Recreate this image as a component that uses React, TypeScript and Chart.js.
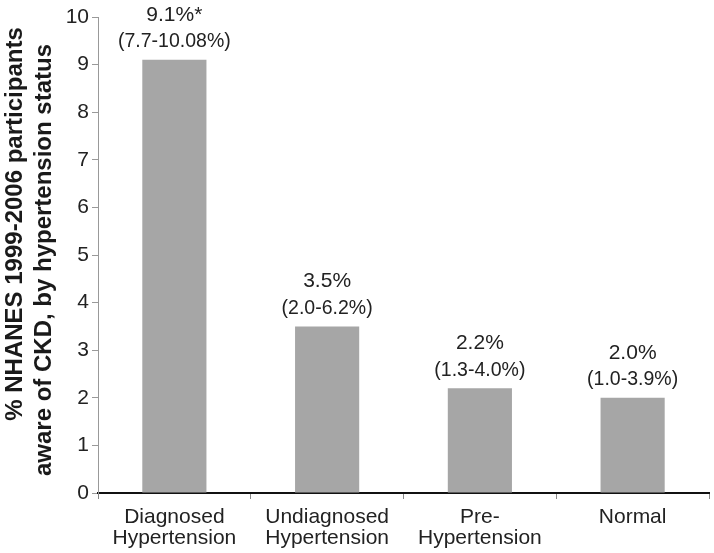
import React, { useEffect, useRef } from "react";
import { Chart, registerables } from "chart.js";

Chart.register(...registerables);

const categories: string[][] = [
  ["Diagnosed", "Hypertension"],
  ["Undiagnosed", "Hypertension"],
  ["Pre-", "Hypertension"],
  ["Normal"],
];
const values: number[] = [9.1, 3.5, 2.2, 2.0];
const valueLabels: string[] = ["9.1%*", "3.5%", "2.2%", "2.0%"];
const ciLabels: string[] = ["(7.7-10.08%)", "(2.0-6.2%)", "(1.3-4.0%)", "(1.0-3.9%)"];
const yTitle: string[] = ["% NHANES 1999-2006 participants", "aware of CKD, by hypertension status"];

const FONT = "'Liberation Sans', Arial, sans-serif";

const labelPlugin = {
  id: "barLabels",
  afterDatasetsDraw(chart: any) {
    const ctx = chart.ctx;
    const meta = chart.getDatasetMeta(0);
    ctx.save();
    ctx.fillStyle = "#222";
    ctx.textAlign = "center";
    ctx.textBaseline = "middle";
    meta.data.forEach((bar: any, i: number) => {
      ctx.font = `21px ${FONT}`;
      ctx.fillText(valueLabels[i], bar.x, bar.y - 45);
      ctx.font = `19.5px ${FONT}`;
      ctx.fillText(ciLabels[i], bar.x, bar.y - 18);
    });
    // y axis title
    ctx.font = `bold 24px ${FONT}`;
    ctx.fillStyle = "#1a1a1a";
    ctx.save();
    ctx.translate(0, 224);
    ctx.rotate(-Math.PI / 2);
    ctx.fillText(yTitle[0], 0, 15);
    ctx.restore();
    ctx.save();
    ctx.translate(0, 260);
    ctx.rotate(-Math.PI / 2);
    ctx.fillText(yTitle[1], 0, 44);
    ctx.restore();
    ctx.restore();
  },
};

export default function App() {
  const ref = useRef<HTMLCanvasElement>(null);
  useEffect(() => {
    if (!ref.current) return;
    const chart = new Chart(ref.current, {
      type: "bar",
      data: {
        labels: categories,
        datasets: [
          {
            data: values,
            backgroundColor: "#a6a6a6",
            borderWidth: 0,
            barPercentage: 0.42,
            categoryPercentage: 1,
          },
        ],
      },
      options: {
        animation: false,
        responsive: false,
        maintainAspectRatio: false,
        layout: { padding: { top: 17, right: 5, left: 0, bottom: 0 } },
        plugins: { legend: { display: false }, tooltip: { enabled: false } },
        scales: {
          x: {
            afterFit: (s: any) => {
              s.height = 60;
            },
            grid: {
              display: true,
              drawOnChartArea: false,
              offset: true,
              tickLength: 6,
              color: "#888",
              lineWidth: 1,
            },
            border: { display: true, color: "#111", width: 2 },
            ticks: {
              color: "#222",
              font: { size: 21, family: FONT, lineHeight: 0.98 },
              padding: 8,
              maxRotation: 0,
              autoSkip: false,
            },
          },
          y: {
            min: 0,
            max: 10,
            afterFit: (s: any) => {
              s.width = 98;
            },
            grid: {
              display: true,
              drawOnChartArea: false,
              tickLength: 6,
              color: "#999",
            },
            border: { display: true, color: "#999", width: 1 },
            ticks: {
              stepSize: 1,
              color: "#222",
              font: { size: 21, family: FONT },
              padding: 3,
            },
          },
        },
      },
      plugins: [labelPlugin],
    });
    return () => chart.destroy();
  }, []);
  return (
    <div style={{ position: "absolute", left: 0, top: 0, width: 714, height: 553, background: "#fff" }}>
      <canvas ref={ref} width={714} height={553} style={{ display: "block" }} />
    </div>
  );
}
